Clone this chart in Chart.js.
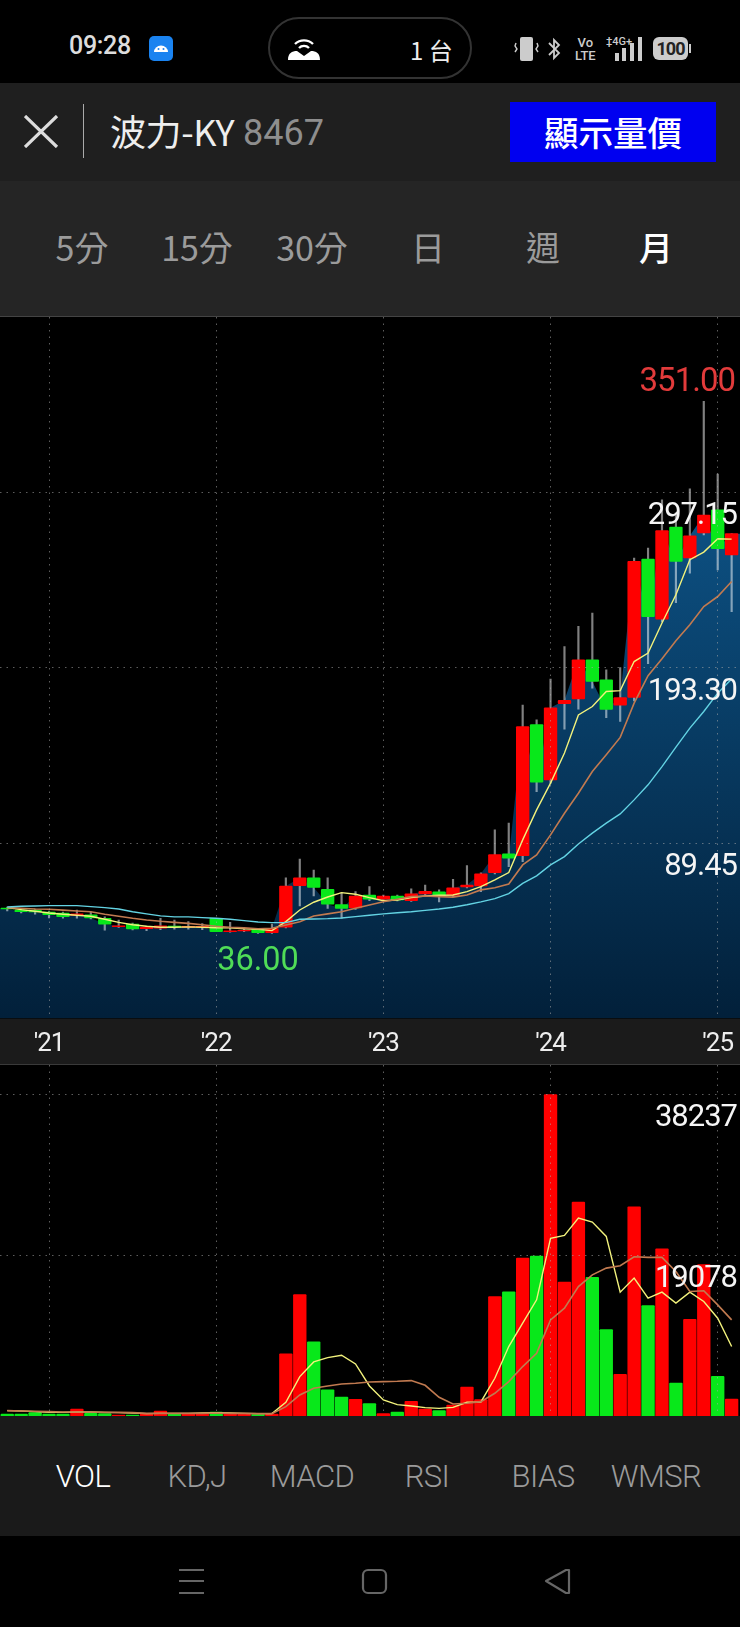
<!DOCTYPE html>
<html>
<head>
<meta charset="utf-8">
<title>波力-KY 8467</title>
<script src="https://cdn.jsdelivr.net/npm/chart.js@4"></script>
<style>
  html, body { margin: 0; padding: 0; background: #000; }
  body { position: relative; width: 740px; height: 1627px; overflow: hidden; color: #eee;
         font-family: Roboto, "Noto Sans CJK TC", sans-serif; }
  .abs { position: absolute; white-space: nowrap; }
  .band { position: absolute; left: 0; width: 740px; }
  .tab { position: absolute; transform: translate(-50%, -50%); white-space: nowrap; color: #9b9b9b; }
  .tab.on { color: #fff; }
  .top .tab { top: 246px; font-size: 34px; }
  .sub .tab { top: 1476px; font-size: 31px; font-weight: 300; letter-spacing: -0.6px; }
  canvas { position: absolute; left: 0; display: block; }
</style>
</head>
<body>
<!-- status bar -->
<div class="abs" style="left:69px;top:31px;font-size:25px;font-weight:500;color:#ddd;letter-spacing:-0.3px">09:28</div>
<svg class="abs" style="left:149px;top:36px" width="24" height="25">
  <rect width="24" height="25" rx="5" fill="#1a83f0"/>
  <path d="M5 16a7 6.5 0 0 1 14 0z" fill="#fff"/>
  <circle cx="9.5" cy="13" r="1" fill="#1a83f0"/><circle cx="14.5" cy="13" r="1" fill="#1a83f0"/>
</svg>
<div class="abs" style="left:268px;top:17px;width:200px;height:58px;border:2px solid #333;border-radius:31px"></div>
<svg class="abs" style="left:288px;top:35px" width="32" height="25" fill="none" stroke="#fff" stroke-width="2.4">
  <path d="M7 9a13 13 0 0 1 18 0"/><path d="M11 13a7 7 0 0 1 10 0"/>
  <path d="M0 25c0-7 4-9 9-9l7 5 7-5c5 0 9 2 9 9z" fill="#fff" stroke="none"/>
</svg>
<div class="abs" style="left:410px;top:32px;font-size:24px;color:#eee;font-family:'Noto Sans CJK TC'">1 台</div>
<svg class="abs" style="left:514px;top:36px" width="180" height="26" fill="#ccc" stroke="none">
  <rect x="6" y="1" width="13" height="24" rx="2"/>
  <path d="M2 7l-1 3 2 3-2 3M23 7l1 3-2 3 2 3" fill="none" stroke="#ccc" stroke-width="1.4"/>
  <path d="M35 7l10 10-5 5V4l5 5-10 10" fill="none" stroke="#ccc" stroke-width="1.8"/>
  <rect x="101" y="17" width="4" height="8"/><rect x="108" y="12" width="4" height="13"/><rect x="116" y="7" width="4" height="18"/><rect x="124" y="1" width="4" height="24"/>
  <rect x="139" y="1" width="35" height="23" rx="6"/><rect x="175" y="8" width="2" height="9"/>
</svg>
<div class="abs" style="left:575px;top:36px;font-size:13px;line-height:13px;font-weight:500;color:#ccc;text-align:center">Vo<br>LTE</div>
<div class="abs" style="left:606px;top:35px;font-size:11px;font-weight:500;color:#ccc">‡4G+</div>
<div class="abs" style="left:653px;top:38px;width:35px;text-align:center;font-size:18px;font-weight:700;color:#222;letter-spacing:-1px">100</div>

<!-- header -->
<div class="band" style="top:83px;height:98px;background:#1f1f1f"></div>
<svg class="abs" style="left:24px;top:115px" width="35" height="33" stroke="#ddd" stroke-width="3.2"><path d="M1 1L33 32M33 1L1 32"/></svg>
<div class="abs" style="left:82.5px;top:104px;width:1.5px;height:54px;background:#aaa"></div>
<div class="abs" style="left:110px;top:106px;font-size:36px;line-height:48px;color:#eee;font-family:'Noto Sans CJK TC';letter-spacing:-0.4px">波力-KY</div>
<div class="abs" style="left:243px;top:109px;font-size:36px;line-height:48px;color:#8e8e8e">8467</div>
<div class="abs" style="left:510px;top:102px;width:206px;height:60px;line-height:58px;background:#0000f0;color:#fff;font-size:34.5px;font-weight:500;text-align:center;font-family:'Noto Sans CJK TC'">顯示量價</div>

<!-- period tabs -->
<div class="band top" style="top:181px;height:135px;background:#252525;border-bottom:1px solid #444"></div>
<div class="top" style="font-family:'Noto Sans CJK TC'">
  <div class="tab" style="left:82px">5分</div>
  <div class="tab" style="left:197px">15分</div>
  <div class="tab" style="left:312px">30分</div>
  <div class="tab" style="left:428px">日</div>
  <div class="tab" style="left:543px">週</div>
  <div class="tab on" style="left:656px;font-weight:500">月</div>
</div>

<!-- grey band behind the year labels -->
<div class="band" style="top:1018px;height:46px;background:#1b1b1b;border-bottom:1px solid #3a3a3a"></div>
<canvas id="priceChart" style="top:317px;width:740px;height:748px"></canvas>
<canvas id="volumeChart" style="top:1065px;width:740px;height:351px"></canvas>

<!-- indicator tabs -->
<div class="band" style="top:1416px;height:120px;background:#1a1a1a"></div>
<div class="sub">
  <div class="tab on" style="left:83px">VOL</div>
  <div class="tab" style="left:197px">KD,J</div>
  <div class="tab" style="left:312px">MACD</div>
  <div class="tab" style="left:427px">RSI</div>
  <div class="tab" style="left:543px">BIAS</div>
  <div class="tab" style="left:656px">WMSR</div>
</div>

<!-- navigation bar -->
<svg class="abs" style="left:170px;top:1560px" width="410" height="42" fill="none" stroke="#666" stroke-width="2.2">
  <path d="M9 10h25M9 21h25M9 33h25"/>
  <rect x="193" y="10" width="23" height="23" rx="5"/>
  <path d="M399 10v23l-3 0-20-12 20-11z" stroke-linejoin="round"/>
</svg>

<script>
// Monthly candles
const months = [
  '2020-10','2020-11','2020-12',
  '2021-01','2021-02','2021-03','2021-04','2021-05','2021-06','2021-07','2021-08','2021-09','2021-10','2021-11','2021-12',
  '2022-01','2022-02','2022-03','2022-04','2022-05','2022-06','2022-07','2022-08','2022-09','2022-10','2022-11','2022-12',
  '2023-01','2023-02','2023-03','2023-04','2023-05','2023-06','2023-07','2023-08','2023-09','2023-10','2023-11','2023-12',
  '2024-01','2024-02','2024-03','2024-04','2024-05','2024-06','2024-07','2024-08','2024-09','2024-10','2024-11','2024-12',
  '2025-01','2025-02'
];
const opens = [51.1,49.8,49.8,48.6,48.1,46.7,47.1,45.0,40.0,41.5,38.8,39.1,40.4,39.8,39.8,45.0,37.1,37.5,38.4,36.5,39.7,64.3,68.9,62.2,53.1,51.1,58.7,56.3,58.2,55.4,59.4,60.6,58.6,63.5,64.1,72.0,83.1,82.1,159.7,126.9,172.1,174.9,198.0,186.2,171.2,175.7,257.7,222.1,276.6,258.4,273.1,286.9,260.2];
const closes = [50.5,48.9,48.7,47.1,46.0,47.6,45.2,41.5,40.6,38.7,39.6,40.6,39.8,40.2,40.2,37.1,37.5,37.8,36.5,39.1,64.1,68.9,63.2,53.3,50.8,58.2,56.3,58.2,55.8,59.4,61.0,58.4,63.0,64.7,71.3,82.7,80.6,158.5,125.6,169.6,174.1,198.0,185.2,168.6,175.7,256.3,223.5,274.6,256.3,271.5,283.7,263.8,272.7];
const highs = [51.7,50.9,50.5,49.3,48.7,49.8,48.6,45.8,44.0,42.2,40.4,45.0,44.0,43.0,41.8,45.0,42.6,39.1,38.4,41.6,68.9,80.0,73.6,68.9,60.0,60.8,63.7,58.8,58.8,62.5,64.7,61.8,68.1,76.2,71.9,97.3,101.3,171.2,162.5,186.6,205.9,217.8,225.7,192.1,193.4,258.3,264.2,292.8,285.0,299.2,351.0,308.0,272.7];
const lows = [49.3,48.1,47.4,45.2,45.0,45.0,44.6,37.9,39.6,38.1,37.7,38.3,38.5,38.5,38.3,37.1,36.7,37.0,36.0,36.1,39.3,52.3,58.2,50.9,45.0,50.3,55.4,55.4,55.3,55.0,58.8,54.7,57.8,63.0,60.8,71.3,75.6,78.5,120.0,125.0,157.0,168.8,181.3,163.7,161.5,173.7,195.7,220.5,231.8,249.4,272.0,251.3,226.6];

const priceMa5 = [51.3,50.1,49.2,48.1,47.4,46.8,46.2,44.4,42.6,41.2,40.3,39.7,39.7,39.9,39.7,39.4,39.3,38.8,38.5,37.7,43.0,49.9,54.5,57.6,60.2,59.2,57.2,55.4,55.8,57.2,58.2,58.6,58.8,60.8,63.7,67.7,72.1,91.4,109.2,125.0,142.8,165.4,170.4,179.3,179.8,197.0,202.0,219.8,236.5,257.3,261.8,269.7,269.5];
const priceMa10 = [51.3,50.9,50.5,50.3,49.8,49.3,48.9,47.4,46.2,45.0,44.0,43.2,42.6,42.0,41.2,40.3,39.7,39.3,38.8,39.1,41.0,43.0,46.4,47.6,48.9,50.9,52.9,54.8,56.3,57.8,58.2,57.8,57.5,58.8,61.8,63.1,65.3,76.6,82.5,94.4,107.2,119.0,131.9,141.8,152.1,172.4,188.6,198.6,209.3,218.8,229.6,235.5,244.4];
const priceMa20 = [51.7,52.1,52.3,52.5,52.5,52.5,51.9,51.3,50.5,48.9,47.6,46.4,45.8,45.8,45.4,45.0,44.4,43.6,42.8,42.4,42.4,44.4,44.6,44.8,45.2,46.0,46.8,47.6,48.3,48.9,49.7,50.5,51.5,53.0,54.7,56.6,59.6,65.7,70.1,76.6,81.5,89.0,95.4,101.3,106.8,115.1,124.0,134.8,146.3,157.6,167.4,178.3,186.6];

const volumes = [240,240,400,240,240,830,320,280,120,120,240,600,240,320,320,480,280,240,160,240,7380,14450,8810,3100,2260,1985,1470,280,480,1750,830,635,1310,3450,1945,14210,14770,18780,19020,38237,15920,25450,16480,10280,4960,24890,13140,19890,3930,11510,18020,4720,2025];
const volumeMa5 = [635,595,516,437,437,476,476,437,397,357,278,318,318,318,357,397,357,318,278,278,1630,4690,6430,6950,7230,6190,3570,1910,1350,1190,990,910,1030,1630,1670,4490,8260,11040,13820,21120,21480,23540,23070,21360,14730,16400,14010,14730,13420,14730,13620,11630,8260];
const volumeMa10 = [635,595,556,516,476,476,476,437,437,397,318,318,318,318,318,357,318,318,278,278,1110,2500,3300,3570,3810,3890,4050,4090,4130,4210,3650,2220,1430,1510,1710,2700,4090,5880,7460,11430,12820,15400,16790,17590,17870,18940,18860,18860,17190,14810,14890,13220,11430];

const priceTicks = [89.45, 193.30, 297.15];
const volumeTicks = [19078, 38237];

const RED = '#ff0000';
const GREEN = '#08e81a';
const candleColors = closes.map((c, i) => (c >= opens[i] ? RED : GREEN));
const xs = months.map((m, i) => i);
const yearTicks = xs.filter(i => months[i].endsWith('-01'));
const X_MIN = -0.52;
const X_MAX = 52.6;

const dottedGrid = {
  color: 'rgba(170,170,170,0.55)',
  lineWidth: 1,
  tickLength: 0,
  offset: false,
  drawTicks: false,
  z: 1
};
const dots = { dash: [1.5, 5] };

function xAxis(showLabels) {
  return {
    type: 'linear',
    min: X_MIN,
    max: X_MAX,
    offset: false,
    border: { display: false, ...dots },
    grid: dottedGrid,
    afterBuildTicks: scale => { scale.ticks = yearTicks.map(v => ({ value: v })); },
    afterFit: scale => {
      scale.height = showLabels ? 46.4 : 0;
      scale.paddingLeft = 0;
      scale.paddingRight = 0;
    },
    ticks: {
      display: showLabels,
      autoSkip: false,
      maxRotation: 0,
      padding: 10,
      color: '#eeeeee',
      font: { family: 'Roboto', size: 26 },
      callback: v => "'" + months[v].slice(2, 4)
    }
  };
}

function yAxis(min, max, tickValues) {
  return {
    position: 'right',
    min: min,
    max: max,
    border: { display: false, ...dots },
    grid: dottedGrid,
    afterBuildTicks: scale => { scale.ticks = tickValues.map(v => ({ value: v })); },
    afterFit: scale => {
      scale.width = 0;
      scale.paddingTop = 0;
      scale.paddingBottom = 0;
    },
    ticks: {
      mirror: true,
      z: 2,
      padding: -3,  // mirrored labels on the right: negative pulls them back inside
      labelOffset: 24,
      color: '#f5f5f5',
      font: { family: 'Roboto', size: 31 },
      callback: v => (tickValues === priceTicks ? v.toFixed(2) : String(v))
    }
  };
}

function maLine(values, color, width) {
  return {
    type: 'line',
    data: xs.map(i => ({ x: i, y: values[i] })),
    borderColor: color,
    borderWidth: width,
    pointRadius: 0,
    tension: 0,
    order: 1
  };
}

// Black plot area on top of the grey axis band, and the tight digits of the app
const plotBackground = {
  id: 'plotBackground',
  beforeDraw(chart) {
    const { ctx, chartArea: a } = chart;
    ctx.letterSpacing = '-1px';
    ctx.save();
    ctx.fillStyle = '#000';
    ctx.fillRect(a.left, a.top, a.right - a.left, a.bottom - a.top);
    ctx.restore();
  }
};

// Highest and lowest price written next to their candles
const extremes = {
  id: 'extremes',
  afterDraw(chart) {
    const { ctx, scales } = chart;
    const hi = Math.max(...highs);
    const lo = Math.min(...lows);
    ctx.save();
    ctx.font = '33px Roboto';
    ctx.textBaseline = 'middle';
    ctx.textAlign = 'right';
    ctx.fillStyle = '#e23b3b';
    ctx.fillText(hi.toFixed(2), scales.x.right - 5, scales.y.getPixelForValue(hi) - 19);
    ctx.letterSpacing = '0px';
    ctx.font = '32.5px Roboto';
    ctx.textAlign = 'center';
    ctx.fillStyle = '#4fdc57';
    ctx.fillText(lo.toFixed(2), scales.x.getPixelForValue(lows.indexOf(lo)), scales.y.getPixelForValue(lo) + 28);
    ctx.restore();
  }
};

new Chart(document.getElementById('priceChart'), {
  data: {
    datasets: [
      {
        // blue area under the closing prices
        type: 'line',
        data: [{ x: X_MIN, y: closes[0] }, ...xs.map(i => ({ x: i, y: closes[i] })), { x: X_MAX, y: closes[closes.length - 1] }],
        borderWidth: 0,
        pointRadius: 0,
        tension: 0,
        fill: 'start',
        backgroundColor: ctx => {
          const area = ctx.chart.chartArea;
          if (!area) return '#0b3f66';
          const g = ctx.chart.ctx.createLinearGradient(0, area.top + 180, 0, area.bottom);
          g.addColorStop(0, '#0d5285');
          g.addColorStop(1, '#02203a');
          return g;
        },
        order: 5
      },
      {
        type: 'bar',
        data: xs.map(i => ({ x: i, y: [lows[i], highs[i]] })),
        backgroundColor: 'rgba(255,255,255,0.5)',
        barThickness: 1.5,
        grouped: false,
        order: 4
      },
      {
        type: 'bar',
        data: xs.map(i => ({ x: i, y: [opens[i], closes[i]] })),
        backgroundColor: candleColors,
        barThickness: 12.7,
        borderRadius: 1,
        borderSkipped: false,
        grouped: false,
        order: 3
      },
      maLine(priceMa20, '#63d3e3', 1.4),
      maLine(priceMa10, '#c17a50', 1.6),
      maLine(priceMa5, '#f2f27c', 1.4)
    ]
  },
  options: {
    responsive: false,
    animation: false,
    layout: { padding: 0 },
    plugins: { legend: { display: false }, tooltip: { enabled: false } },
    scales: {
      x: xAxis(true),
      y: yAxis(-14.4, 401, priceTicks)
    }
  },
  plugins: [plotBackground, extremes]
});

new Chart(document.getElementById('volumeChart'), {
  data: {
    datasets: [
      {
        type: 'bar',
        data: xs.map(i => ({ x: i, y: volumes[i] })),
        backgroundColor: candleColors,
        barThickness: 12.7,
        borderRadius: 1,
        grouped: false,
        order: 3
      },
      maLine(volumeMa10, '#c17a50', 1.6),
      maLine(volumeMa5, '#f2f27c', 1.4)
    ]
  },
  options: {
    responsive: false,
    animation: false,
    layout: { padding: 0 },
    plugins: { legend: { display: false }, tooltip: { enabled: false } },
    scales: {
      x: xAxis(false),
      y: yAxis(0, 41745, volumeTicks)
    }
  },
  plugins: [plotBackground]
});
</script>
</body>
</html>
